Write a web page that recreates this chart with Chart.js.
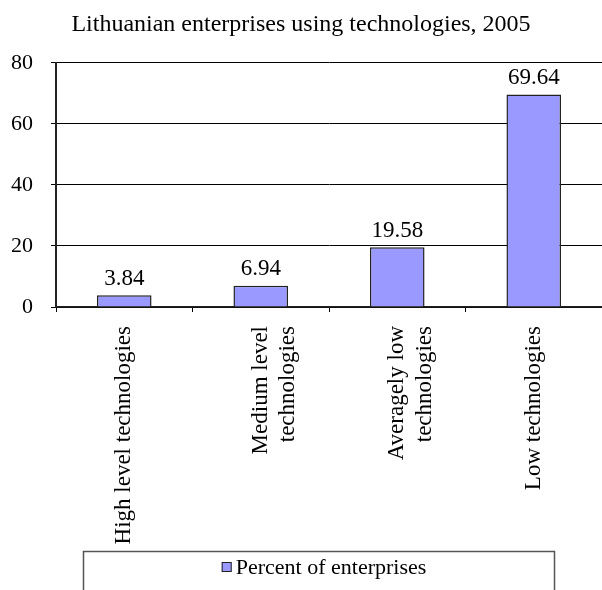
<!DOCTYPE html>
<html>
<head>
<meta charset="utf-8">
<script src="https://cdn.jsdelivr.net/npm/chart.js@4"></script>
<style>
  body { margin: 0; background: #fff; }
  canvas { display: block; }
</style>
</head>
<body>
<canvas id="techChart" width="602" height="590"></canvas>
<script>
const categories = [
    'High level technologies',
    ['Medium level', 'technologies'],
    ['Averagely low', 'technologies'],
    'Low technologies'
];
const percentValues = [3.84, 6.94, 19.58, 69.64];
const yTicks = [0, 20, 40, 60, 80];
const seriesName = 'Percent of enterprises';

const serif = "'Liberation Serif', 'Times New Roman', serif";

// value labels over the bars
const barLabels = {
    id: 'barLabels',
    afterDatasetsDraw(chart) {
        const ctx = chart.ctx;
        const meta = chart.getDatasetMeta(0);
        ctx.save();
        ctx.font = `23px ${serif}`;
        ctx.fillStyle = '#000';
        ctx.textAlign = 'center';
        ctx.textBaseline = 'bottom';
        meta.data.forEach((bar, i) => {
            ctx.fillText(percentValues[i].toFixed(2), bar.x, bar.y - 5);
        });
        ctx.restore();
    }
};

// boxed legend at the bottom, like the original
const boxLegend = {
    id: 'boxLegend',
    afterDraw(chart) {
        const ctx = chart.ctx;
        const ds = chart.data.datasets[0];
        ctx.save();
        ctx.strokeStyle = '#555';
        ctx.lineWidth = 1.5;
        ctx.strokeRect(83.5, 551.5, 471, 60);
        ctx.font = `22px ${serif}`;
        const textW = ctx.measureText(ds.label).width;
        const boxSize = 10;
        const startX = 324 - (boxSize + 4 + textW) / 2;
        ctx.fillStyle = ds.backgroundColor;
        ctx.strokeStyle = ds.borderColor;
        ctx.lineWidth = 1;
        ctx.fillRect(startX, 562, boxSize, boxSize);
        ctx.strokeRect(startX + 0.5, 562.5, boxSize - 1, boxSize - 1);
        ctx.fillStyle = '#000';
        ctx.textBaseline = 'middle';
        ctx.fillText(ds.label, startX + boxSize + 4, 568);
        ctx.restore();
    }
};

new Chart(document.getElementById('techChart'), {
    type: 'bar',
    data: {
        labels: categories,
        datasets: [{
            label: seriesName,
            data: percentValues,
            backgroundColor: '#9999FF',
            borderColor: '#222222',
            borderWidth: 1.5,
            barPercentage: 0.4,
            categoryPercentage: 1
        }]
    },
    options: {
        responsive: false,
        animation: false,
        layout: { padding: { left: 0, right: 0, top: 0, bottom: 39 } },
        plugins: {
            legend: { display: false },
            tooltip: { enabled: false },
            title: {
                display: true,
                text: 'Lithuanian enterprises using technologies, 2005',
                color: '#000',
                font: { family: serif, size: 24, weight: 'normal' },
                padding: { top: 10, bottom: 24 }
            }
        },
        scales: {
            x: {
                afterFit: s => { s.height = 244; },
                border: { color: '#222', width: 1.5 },
                grid: {
                    offset: true,
                    drawOnChartArea: false,
                    color: '#000',
                    tickLength: 5
                },
                ticks: {
                    autoSkip: false,
                    minRotation: 90,
                    maxRotation: 90,
                    padding: 14,
                    color: '#000',
                    font: { family: serif, size: 23, lineHeight: 1.2 }
                }
            },
            y: {
                min: 0,
                max: 80,
                afterFit: s => { s.width = 56; },
                afterBuildTicks: s => { s.ticks = yTicks.map(v => ({ value: v })); },
                border: { color: '#222', width: 2 },
                grid: { color: '#000', tickLength: 5 },
                ticks: {
                    padding: 18,
                    color: '#000',
                    font: { family: serif, size: 22 }
                }
            }
        }
    },
    plugins: [barLabels, boxLegend]
});
</script>
</body>
</html>
